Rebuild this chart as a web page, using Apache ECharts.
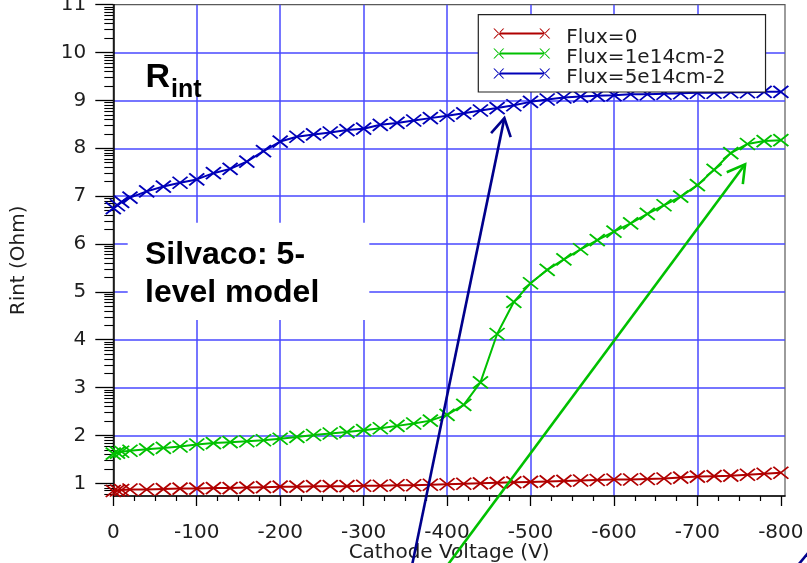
<!DOCTYPE html>
<html>
<head>
<meta charset="utf-8">
<title>Rint vs Cathode Voltage</title>
<script src="https://cdn.jsdelivr.net/npm/echarts@6/dist/echarts.min.js"></script>
<style>
  html, body { margin: 0; padding: 0; background: #ffffff; }
  #chart { width: 807px; height: 563px; }
</style>
</head>
<body>
<div id="chart"></div>
<script>
// Cathode voltage sweep (V)
const voltage = [0, -5, -10, -20, -40, -60, -80, -100, -120, -140, -160, -180, -200,
  -220, -240, -260, -280, -300, -320, -340, -360, -380, -400, -420, -440, -460, -480,
  -500, -520, -540, -560, -580, -600, -620, -640, -660, -680, -700, -720, -740, -760,
  -780, -800];

// Interstrip resistance (Ohm) per fluence
const rintFlux0 = [0.84, 0.85, 0.86, 0.87, 0.87, 0.88, 0.89, 0.89, 0.90, 0.90, 0.91, 0.92, 0.93,
  0.93, 0.94, 0.94, 0.94, 0.95, 0.95, 0.96, 0.96, 0.97, 0.98, 0.99, 1.00, 1.01, 1.02,
  1.03, 1.04, 1.05, 1.06, 1.07, 1.08, 1.08, 1.09, 1.10, 1.12, 1.14, 1.15, 1.16, 1.18,
  1.20, 1.22];
const rintFlux1e14 = [1.62, 1.64, 1.66, 1.68, 1.71, 1.74, 1.77, 1.81, 1.84, 1.86, 1.88, 1.90, 1.93,
  1.97, 2.01, 2.04, 2.07, 2.11, 2.15, 2.20, 2.25, 2.31, 2.43, 2.64, 3.11, 4.12, 4.79,
  5.18, 5.46, 5.68, 5.89, 6.08, 6.26, 6.43, 6.63, 6.81, 6.99, 7.23, 7.55, 7.90, 8.09,
  8.15, 8.17];
const rintFlux5e14 = [6.75, 6.81, 6.88, 6.97, 7.10, 7.20, 7.28, 7.35, 7.48, 7.57, 7.72, 7.94, 8.14,
  8.24, 8.29, 8.33, 8.38, 8.41, 8.49, 8.53, 8.58, 8.63, 8.68, 8.73, 8.79, 8.84, 8.90,
  8.97, 9.02, 9.06, 9.08, 9.10, 9.11, 9.13, 9.13, 9.14, 9.15, 9.16, 9.16, 9.17, 9.17,
  9.18, 9.18];

const seriesNames = ['Flux=0', 'Flux=1e14cm-2', 'Flux=5e14cm-2'];
const seriesColors = ['#b00000', '#00c000', '#0000b8'];

// Axis ticks and titles
const xTickValues = [0, -100, -200, -300, -400, -500, -600, -700, -800];
const yTickValues = [1, 2, 3, 4, 5, 6, 7, 8, 9, 10, 11];
const xAxisTitle = 'Cathode Voltage (V)';
const yAxisTitle = 'Rint (Ohm)';

// Annotation texts
const labelMain = 'R';
const labelSub = 'int';
const modelLines = ['Silvaco: 5-', 'level model'];

// Arrow annotations, given in data space: [tail, head]
const arrowBlue = [[-357, -0.8], [-468.7, 8.63]];
const arrowGreen = [[-396.7, -0.8], [-757.2, 7.665]];
const strayStroke = [[-819.6, -0.73], [-837.6, -0.35]];

const X_MIN = -805, X_MAX = 0, Y_MIN = 0.735, Y_MAX = 11;

// minor ticks: evenly every 25 V on x, log-style inside each unit on y
const xMinorTicks = [];
for (let i = 0; i < xTickValues.length - 1; i++) {
  for (let k = 1; k < 4; k++) xMinorTicks.push(xTickValues[i] - 25 * k);
}
const yMinorTicks = [];
for (let n = 0; n < 11; n++) {
  for (let k = 2; k < 10; k++) {
    const v = n + Math.log10(k);
    if (v >= Y_MIN && v <= Y_MAX) yMinorTicks.push(v);
  }
}

const FONT = 'DejaVu Sans';
const TEXT_COLOR = '#1e1e1e';
const GRID_COLOR = 'rgb(72,72,255)';

const crossSymbol = 'path://M0,0L10,10M0,10L10,0';
// legend swatch: thick line with a cross at each end, plus blank room on the right
const legendIcon = 'path://M0,0M68,19' +
  'M5.5,4.5H51.5V6.5H5.5Z' +
  'M0,0.5L1.3,0.5L11,10.5L9.7,10.5Z M0,10.5L1.3,10.5L11,0.5L9.7,0.5Z' +
  'M46,0.5L47.3,0.5L57,10.5L55.7,10.5Z M46,10.5L47.3,10.5L57,0.5L55.7,0.5Z';

const seriesValues = [rintFlux0, rintFlux1e14, rintFlux5e14];

const chart = echarts.init(document.getElementById('chart'), null, { renderer: 'canvas' });

const option = {
  animation: false,
  backgroundColor: '#ffffff',
  grid: {
    left: 113.3, right: 22, top: 4.7, bottom: 67,
    outerBoundsMode: 'none',
    containLabel: false,
    show: true, borderColor: '#5a5a5a', borderWidth: 1.2,
    backgroundColor: 'transparent'
  },
  legend: {
    orient: 'vertical',
    left: 478.3, top: 14.7,
    padding: [12.8, 40, 4.5, 15],
    itemWidth: 68, itemHeight: 19, itemGap: 0,
    backgroundColor: '#ffffff',
    borderColor: '#222222', borderWidth: 1.2, borderRadius: 0,
    textStyle: { fontFamily: FONT, fontSize: 20, color: TEXT_COLOR, lineHeight: 15, padding: [4, 0, 0, 0] },
    selectedMode: false,
    data: seriesNames.map((name, i) => ({
      name: name,
      icon: legendIcon,
      itemStyle: { color: seriesColors[i], borderWidth: 0 }
    }))
  },
  xAxis: [
    {
      type: 'value', min: X_MIN, max: X_MAX, splitNumber: 8, inverse: true,
      position: 'bottom',
      name: xAxisTitle, nameLocation: 'middle', nameGap: 47, nameMoveOverlap: false,
      nameTextStyle: { fontFamily: FONT, fontSize: 20, color: TEXT_COLOR },
      axisLine: { onZero: false, lineStyle: { color: '#000', width: 1.5 } },
      axisTick: { customValues: xTickValues, length: 10, lineStyle: { color: '#000', width: 1.3 } },
      axisLabel: { customValues: xTickValues, margin: 27, fontFamily: FONT, fontSize: 20, color: TEXT_COLOR },
      splitLine: { show: true, showMinLine: false, showMaxLine: false, lineStyle: { color: GRID_COLOR, width: 1.5 } }
    },
    {
      type: 'value', min: X_MIN, max: X_MAX, inverse: true, position: 'bottom',
      axisLine: { show: false },
      axisTick: { customValues: xMinorTicks, length: 5, lineStyle: { color: '#000', width: 1.2 } },
      axisLabel: { show: false },
      splitLine: { show: false }
    }
  ],
  yAxis: [
    {
      type: 'value', min: Y_MIN, max: Y_MAX, splitNumber: 10, position: 'left',
      name: yAxisTitle, nameLocation: 'middle', nameGap: 85, nameRotate: 90, nameMoveOverlap: false,
      nameTextStyle: { fontFamily: FONT, fontSize: 20, color: TEXT_COLOR, padding: [0, 20, 0, 0] },
      axisLine: { onZero: false, lineStyle: { color: '#000', width: 1.5 } },
      axisTick: { customValues: yTickValues, length: 18, lineStyle: { color: '#000', width: 1.3 } },
      axisLabel: { customValues: yTickValues, margin: 27, fontFamily: FONT, fontSize: 20, color: TEXT_COLOR },
      splitLine: { show: true, showMinLine: false, showMaxLine: false, lineStyle: { color: GRID_COLOR, width: 1.5 } }
    },
    {
      type: 'value', min: Y_MIN, max: Y_MAX, position: 'left',
      axisLine: { show: false },
      axisTick: { customValues: yMinorTicks, length: 9, lineStyle: { color: '#000', width: 1.1 } },
      axisLabel: { show: false },
      splitLine: { show: false }
    }
  ],
  series: seriesNames.map((name, i) => ({
    name: name,
    type: 'line',
    xAxisIndex: 0, yAxisIndex: 0,
    data: voltage.map((v, j) => [v, seriesValues[i][j]]),
    color: seriesColors[i],
    lineStyle: { color: seriesColors[i], width: 2 },
    symbol: crossSymbol,
    symbolSize: [15, 12],
    itemStyle: { color: 'rgba(0,0,0,0)', borderColor: seriesColors[i], borderWidth: 1.8 },
    emphasis: { disabled: true },
    z: 3
  }))
};

chart.setOption(option);

// arrows built from data-space endpoints through the grid's own scales
function arrowElements(seg, color, withHead) {
  const p0 = chart.convertToPixel({ gridIndex: 0 }, seg[0]);
  const p1 = chart.convertToPixel({ gridIndex: 0 }, seg[1]);
  const els = [{
    type: 'polyline', z: 100,
    shape: { points: [p0, p1] },
    style: { stroke: color, lineWidth: 2.6, fill: null }
  }];
  if (withHead) {
    const ang = Math.atan2(p0[1] - p1[1], p0[0] - p1[0]);
    const len = 20, spread = Math.PI / 6;
    const a = [p1[0] + len * Math.cos(ang + spread), p1[1] + len * Math.sin(ang + spread)];
    const b = [p1[0] + len * Math.cos(ang - spread), p1[1] + len * Math.sin(ang - spread)];
    els.push({
      type: 'polyline', z: 100,
      shape: { points: [a, p1, b] },
      style: { stroke: color, lineWidth: 2.6, fill: null, lineJoin: 'miter' }
    });
  }
  return els;
}

const boldFont = 'Liberation Sans';
const graphics = [
  {
    type: 'rect', z: 50,
    shape: { x: 127.7, y: 222.7, width: 241.6, height: 97.3 },
    style: { fill: '#ffffff' }
  },
  {
    type: 'text', z: 51, x: 145, y: 254.7,
    style: { text: modelLines[0], fontFamily: boldFont, fontWeight: 'bold', fontSize: 32, fill: '#000', verticalAlign: 'middle' }
  },
  {
    type: 'text', z: 51, x: 145, y: 293.1,
    style: { text: modelLines[1], fontFamily: boldFont, fontWeight: 'bold', fontSize: 32, fill: '#000', verticalAlign: 'middle' }
  },
  {
    type: 'text', z: 51, x: 145.5, y: 77.8,
    style: { text: labelMain, fontFamily: boldFont, fontWeight: 'bold', fontSize: 34, fill: '#000', verticalAlign: 'middle' }
  },
  {
    type: 'text', z: 51, x: 171, y: 89.7,
    style: { text: labelSub, fontFamily: boldFont, fontWeight: 'bold', fontSize: 25, fill: '#000', verticalAlign: 'middle' }
  }
]
  .concat(arrowElements(arrowBlue, '#00008c', true))
  .concat(arrowElements(arrowGreen, '#00c000', true))
  .concat(arrowElements(strayStroke, '#00008c', false));

chart.setOption({ graphic: graphics });
</script>
</body>
</html>
